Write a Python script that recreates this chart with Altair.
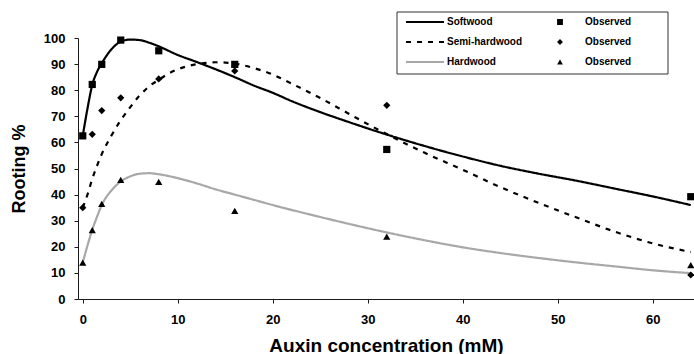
import altair as alt
import pandas as pd

# ---------------- data ----------------
series_names = ["Softwood", "Semi-hardwood", "Hardwood"]
obs_keys = ["obs_soft", "obs_semi", "obs_hard"]

obs_x = [0, 1, 2, 4, 8, 16, 32, 64]
soft_obs = [62.5, 82.2, 89.9, 99.2, 95.1, 89.9, 57.3, 39.2]
semi_obs = [35.0, 63.1, 72.2, 77.1, 84.3, 87.4, 74.2, 9.2]
hard_obs = [13.9, 26.4, 36.4, 45.6, 44.9, 33.8, 23.9, 13.0]

soft_x = [0, 0.5, 1, 1.5, 2, 3, 4, 5, 6, 7, 8, 10, 12, 14, 16, 18, 20, 22, 25,
          28, 32, 36, 40, 44, 48, 52, 56, 60, 64]
soft_fit = [62.5, 73, 82, 87, 90.3, 95.6, 98.6, 99.4, 99.2, 98.2, 96.8, 93.5,
            90.8, 88, 85, 81.8, 79, 75.8, 71.6, 67.8, 63, 58.6, 54.6, 51,
            48, 45.3, 42.3, 39.3, 36]

semi_x = [0, 0.5, 1, 1.5, 2, 3, 4, 5, 6, 7, 8, 9, 10, 11, 12, 13, 14, 15, 16,
          18, 20, 22, 25, 28, 30, 32, 34, 36, 40, 44, 48, 52, 56, 60, 64]
semi_fit = [35, 40, 46, 51, 55.5, 62.5, 68.5, 73.5, 78, 81.5, 84, 86.3, 88,
            89.2, 90, 90.5, 90.7, 90.6, 90.2, 88.5, 86, 82.5, 77, 71, 67,
            63.2, 59.5, 56, 49.5, 42.8, 36.8, 31.2, 25.8, 21.3, 18]

hard_x = [0, 0.5, 1, 1.5, 2, 3, 4, 5, 6, 7, 8, 10, 12, 14, 16, 18, 20, 24, 28,
          32, 36, 40, 44, 48, 52, 56, 60, 64]
hard_fit = [14, 20.5, 26.5, 31.5, 36, 41.5, 45, 47, 48, 48.2, 47.8, 46.3,
            44.3, 42, 40, 38, 36, 32.3, 28.8, 25.5, 22.5, 19.8, 17.6, 15.7,
            14, 12.5, 11, 9.9]

x_ticks = [0, 10, 20, 30, 40, 50, 60]
y_ticks = [0, 10, 20, 30, 40, 50, 60, 70, 80, 90, 100]

# ---------------- tables ----------------
curve_df = pd.concat([
    pd.DataFrame({"x": soft_x, "y": soft_fit, "series": series_names[0]}),
    pd.DataFrame({"x": semi_x, "y": semi_fit, "series": series_names[1]}),
    pd.DataFrame({"x": hard_x, "y": hard_fit, "series": series_names[2]}),
], ignore_index=True)

obs_df = pd.concat([
    pd.DataFrame({"x": obs_x, "y": soft_obs, "obs": obs_keys[0]}),
    pd.DataFrame({"x": obs_x, "y": semi_obs, "obs": obs_keys[1]}),
    pd.DataFrame({"x": obs_x, "y": hard_obs, "obs": obs_keys[2]}),
], ignore_index=True)

FONT = "Liberation Sans"
AX = "#1a1a1a"

x_scale = alt.Scale(domain=[-0.5, 64.34], nice=False, zero=False)
y_scale = alt.Scale(domain=[0, 100], nice=False)

x_axis = alt.Axis(values=x_ticks, format="d", tickSize=4, labelPadding=10,
                  grid=False, domainColor=AX, tickColor=AX, labelColor="black",
                  labelFont=FONT, labelFontWeight="bold", labelFontSize=13,
                  labelFlush=False,
                  title="Auxin concentration (mM)", titleFont=FONT,
                  titleFontWeight="bold", titleFontSize=19, titleColor="black",
                  titleY=52, titleBaseline="alphabetic")
y_axis = alt.Axis(values=y_ticks, format="d", tickSize=4, labelPadding=9,
                  grid=False, domainColor=AX, tickColor=AX, labelColor="black",
                  labelFont=FONT, labelFontWeight="bold", labelFontSize=13,
                  title="Rooting %", titleFont=FONT, titleFontWeight="bold",
                  titleFontSize=18, titleColor="black",
                  titleX=-54, titleY=130.5, titleBaseline="alphabetic")

line_legend = alt.Legend(title=None, orient="none", legendX=327, legendY=-26,
                         symbolType="stroke", symbolSize=1444,
                         symbolStrokeWidth=2, clipHeight=20, rowPadding=0,
                         labelOffset=2, labelFont=FONT, labelFontWeight="bold",
                         labelFontSize=10, labelColor="black", padding=0)

shape_legend = alt.Legend(title=None, orient="none", legendX=477, legendY=-26,
                          symbolSize=34, clipHeight=20, rowPadding=0,
                          labelOffset=20, labelExpr="'Observed'",
                          symbolFillColor="black", symbolStrokeColor="black",
                          labelFont=FONT, labelFontWeight="bold",
                          labelFontSize=10, labelColor="black", padding=0)

frame = alt.Chart(pd.DataFrame({"k": [0]})).mark_rect(
    fill="white", stroke="#333333", strokeWidth=1
).encode(x=alt.value(319), x2=alt.value(590), y=alt.value(-26), y2=alt.value(36))

lines = alt.Chart(curve_df).mark_line(interpolate="monotone", strokeWidth=2.2).encode(
    x=alt.X("x:Q", scale=x_scale, axis=x_axis),
    y=alt.Y("y:Q", scale=y_scale, axis=y_axis),
    color=alt.Color("series:N",
                    scale=alt.Scale(domain=series_names,
                                    range=["#000000", "#000000", "#a8a8a8"]),
                    legend=line_legend),
    strokeDash=alt.StrokeDash("series:N",
                              scale=alt.Scale(domain=series_names,
                                              range=[[1, 0], [5, 6], [1, 0]]),
                              legend=line_legend),
    order=alt.Order("x:Q"),
)

points = alt.Chart(obs_df).mark_point(filled=True, color="black", opacity=1,
                                      size=52).encode(
    x=alt.X("x:Q", scale=x_scale, axis=x_axis),
    y=alt.Y("y:Q", scale=y_scale, axis=y_axis),
    shape=alt.Shape("obs:N",
                    scale=alt.Scale(domain=obs_keys,
                                    range=["square", "diamond", "triangle-up"]),
                    legend=shape_legend),
)

chart = alt.layer(frame, lines, points).properties(
    width=616, height=261,
    autosize=alt.AutoSizeParams(type="none"),
    padding={"left": 78, "top": 38, "right": 0, "bottom": 55},
    background="white",
).configure_view(stroke=None)

chart.save("out.html", embed_options={"renderer": "svg", "actions": False})
